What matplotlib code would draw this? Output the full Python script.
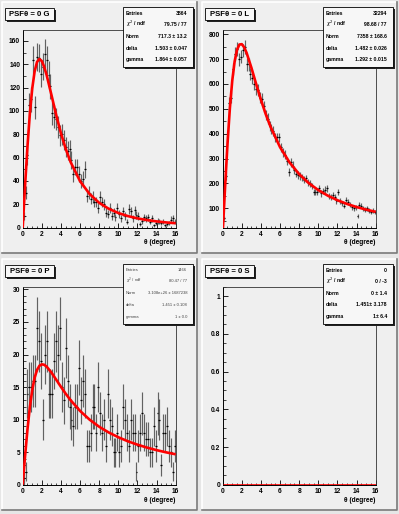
import numpy as np
import matplotlib
matplotlib.use('Agg')
import matplotlib.pyplot as plt
from matplotlib.patches import Rectangle
from matplotlib.lines import Line2D
from matplotlib.ticker import MultipleLocator

# ---- data ----
theta_bins = np.linspace(0.1, 15.9, 80)   # bin centres, width 0.2 deg

counts_G = [10, 30, 62, 105, 110, 144, 103, 146, 145, 132,
            138, 149, 144, 131, 121, 98, 95, 93, 86, 79,
            80, 75, 69, 66, 67, 58, 46, 52, 52, 46,
            40, 42, 50, 27, 30, 25, 26, 22, 22, 17,
            26, 22, 20, 13, 12, 17, 10, 13, 9, 17,
            12, 8, 14, 10, 5, 16, 14, 8, 15, 11,
            10, 3, 6, 9, 8, 9, 5, 8, 2, 4,
            6, 5, 4, 5, 2, 3, 4, 7, 8, 5]

counts_L = [60, 230, 370, 525, 545, 660, 720, 740, 700, 710,
            735, 750, 680, 680, 640, 625, 600, 580, 575, 545,
            540, 510, 475, 460, 430, 420, 410, 385, 385, 385,
            345, 325, 315, 290, 245, 285, 275, 255, 240, 235,
            230, 225, 215, 220, 205, 200, 190, 165, 165, 165,
            180, 160, 170, 175, 180, 150, 145, 155, 145, 130,
            165, 130, 120, 110, 135, 125, 115, 105, 100, 105,
            70, 115, 110, 100, 95, 100, 90, 85, 90, 85]

counts_P = [1, 2, 14, 15, 15, 16, 16, 24, 22, 19,
            10, 20, 22, 14, 14, 14, 19, 22, 20, 24,
            15, 13, 21, 16, 12, 10, 9, 12, 12, 18,
            13, 16, 14, 6, 6, 8, 12, 12, 8, 15,
            11, 8, 10, 6, 14, 10, 9, 5, 5, 8,
            5, 6, 12, 10, 8, 6, 10, 8, 8, 2,
            6, 8, 11, 8, 7, 7, 5, 5, 9, 6,
            11, 10, 3, 8, 8, 9, 6, 5, 2, 6]

counts_S = [0] * 80

# fitted PSF curves
fit_x = [0, 0.25, 0.5, 0.75, 1, 1.25, 1.5, 1.75, 2, 2.25, 2.5, 3, 3.5, 4, 4.5,
         5, 6, 7, 8, 9, 10, 11, 12, 13, 14, 15, 16]
fit_G = [0, 36.3, 69.7, 97.9, 119.4, 134.0, 142.0, 144.5, 142.7, 137.7, 130.8,
         113.9, 96.6, 80.9, 67.5, 56.4, 39.8, 28.8, 21.3, 16.2, 12.6, 9.95,
         8.0, 6.53, 5.40, 4.52, 3.82]
fit_L = [0, 186.6, 358.1, 502.6, 614.0, 691.3, 737.8, 758.8, 760.2, 747.5,
         725.3, 665.6, 599.7, 536.3, 478.7, 428.0, 345.6, 284.0, 237.2, 201.2,
         173.2, 150.7, 132.5, 117.6, 105.2, 94.7, 85.8]
fit_P = [0, 4.44, 8.51, 11.93, 14.57, 16.44, 17.63, 18.27, 18.49, 18.42, 18.14,
         17.24, 16.14, 15.03, 13.97, 13.00, 11.33, 9.99, 8.90, 8.02, 7.29, 6.67,
         6.15, 5.70, 5.31, 4.97, 4.67]
fit_S = [0] * len(fit_x)

titles = ['PSF\u03b8 = 0 G', 'PSF\u03b8 = 0 L', 'PSF\u03b8 = 0 P', 'PSF\u03b8 = 0 S']
stat_labels = ['Entries', r'$\chi^2$ / ndf', 'Norm', 'delta', 'gamma']
stats_G = ['3864', '79.75 / 77', '717.3 \u00b1 13.2', '1.503 \u00b1 0.047', '1.864 \u00b1 0.057']
stats_L = ['32294', '98.68 / 77', '7358 \u00b1 168.6', '1.482 \u00b1 0.026', '1.292 \u00b1 0.015']
stats_P = ['1466', '80.47 / 77', '3.108e+26 \u00b1 1687238', '1.451 \u00b1 0.108', '1 \u00b1 0.0']
stats_S = ['0', '0 / -3', '0 \u00b1 1.4', '1.451\u00b1 3.178', '1\u00b1 6.4']

W, H = 399, 514
BG = '#efefef'
FONT = 'Liberation Sans'

fig = plt.figure(figsize=(W / 100, H / 100), dpi=100, facecolor='#e6e6e6')


def fx(px):
    return px / W


def fy(py):
    return 1 - py / H


def box(x0, y0, x1, y1, face, edge='black', lw=0.6, z=5, shadow=True):
    if shadow:
        fig.add_artist(Rectangle((fx(x0 + 2), fy(y1 + 2)), (x1 - x0) / W, (y1 - y0) / H,
                                 transform=fig.transFigure, facecolor='#222222',
                                 edgecolor='none', zorder=z))
    fig.add_artist(Rectangle((fx(x0), fy(y1)), (x1 - x0) / W, (y1 - y0) / H,
                             transform=fig.transFigure, facecolor=face,
                             edgecolor=edge, lw=lw, zorder=z + 0.1))


def pad(ox, oy):
    x0, y0, x1, y1 = ox + 2, oy + 2, ox + 197, oy + 253
    fig.add_artist(Rectangle((fx(x0), fy(y1)), (x1 - x0) / W, (y1 - y0) / H,
                             transform=fig.transFigure, facecolor=BG,
                             edgecolor='none', zorder=-2))
    fig.add_artist(Line2D([fx(x0), fx(x0), fx(x1)], [fy(y1), fy(y0), fy(y0)],
                          transform=fig.transFigure, color='white', lw=1.2, zorder=-1))
    fig.add_artist(Line2D([fx(x0), fx(x1), fx(x1)], [fy(y1), fy(y1), fy(y0)],
                          transform=fig.transFigure, color='#7a7a7a', lw=1.2, zorder=-1))


panels = [
    (0, 0, counts_G, fit_G, titles[0], stats_G, (0, 169.5), 20, 10, None),
    (200, 0, counts_L, fit_L, titles[1], stats_L, (22, 818), 100, 50, None),
    (0, 257, counts_P, fit_P, titles[2], stats_P, (0, 30.4), 5, 1, None),
    (200, 257, counts_S, fit_S, titles[3], stats_S, (0, 1.05), 0.2, 0.05,
     ['0', '0.2', '0.4', '0.6', '0.8', '1']),
]

for i, (ox, oy, counts, fit, title, stats, ylim, ymaj, ymin_, ylabels) in enumerate(panels):
    pad(ox, oy)
    left, top, right, bottom = ox + 22.7, oy + 29.8, ox + 175.7, oy + 227.7
    ax = fig.add_axes([fx(left), fy(bottom), (right - left) / W, (bottom - top) / H])
    ax.set_facecolor(BG)

    counts = np.array(counts, dtype=float)
    if counts.sum() > 0:
        err = np.sqrt(counts)
        ax.errorbar(theta_bins, counts, yerr=err, fmt='none', ecolor='#626262',
                    elinewidth=0.85, zorder=2)
        ax.errorbar(theta_bins, counts, xerr=0.1, fmt='none', ecolor='black',
                    elinewidth=0.9, zorder=3)
    ax.plot(fit_x, fit, color='red', lw=1.9, zorder=4, solid_capstyle='butt')

    ax.set_xlim(0, 16)
    ax.set_ylim(*ylim)
    ax.xaxis.set_major_locator(MultipleLocator(2))
    ax.xaxis.set_minor_locator(MultipleLocator(0.5))
    ax.yaxis.set_major_locator(MultipleLocator(ymaj))
    ax.yaxis.set_minor_locator(MultipleLocator(ymin_))
    if ylabels is not None:
        ax.set_yticks([0, 0.2, 0.4, 0.6, 0.8, 1.0])
        ax.set_yticklabels(ylabels)
    ax.tick_params(which='major', direction='in', length=3.6, width=0.6,
                   labelsize=4.8, pad=1.8, top=False, right=False)
    ax.tick_params(which='minor', direction='in', length=1.8, width=0.5,
                   top=False, right=False)
    ax.tick_params(axis='x', which='major', pad=2.5)
    for lab in ax.get_xticklabels() + ax.get_yticklabels():
        lab.set_fontweight('bold')
        lab.set_family(FONT)
    for side in ['left', 'bottom']:
        ax.spines[side].set_linewidth(0.7)
        ax.spines[side].set_color('black')
    for side in ['top', 'right']:
        ax.spines[side].set_linewidth(0.6)
        ax.spines[side].set_color('#333333')

    fig.text(fx(ox + 175.5), fy(oy + 243), '\u03b8 (degree)', ha='right', va='center',
             fontsize=4.8, fontweight='bold', family=FONT)

    # title box
    box(ox + 5, oy + 8, ox + 54, oy + 20, face='#f7f7f7', lw=0.6, z=5)
    fig.text(fx(ox + 29.5), fy(oy + 14.2), title, ha='center', va='center',
             fontsize=5.6, fontweight='bold', family=FONT, zorder=7)

    # stats box
    box(ox + 123, oy + 7, ox + 193, oy + 67, face='#f7f7f7', lw=0.6, z=5)
    small = (i == 2)
    line_y = [13.3, 24.3, 36.2, 48.0, 59.8]
    for lab, val, ly in zip(stat_labels, stats, line_y):
        kw = dict(fontsize=3.0 if small else 3.7, family=FONT, zorder=7,
                  fontweight='normal' if small else 'bold',
                  color='#444444' if small else 'black', va='center')
        fig.text(fx(ox + 125.5), fy(oy + ly), lab, ha='left', **kw)
        fig.text(fx(ox + 187), fy(oy + ly), val, ha='right', **kw)

fig.savefig('out.png', dpi=100, facecolor=fig.get_facecolor())
